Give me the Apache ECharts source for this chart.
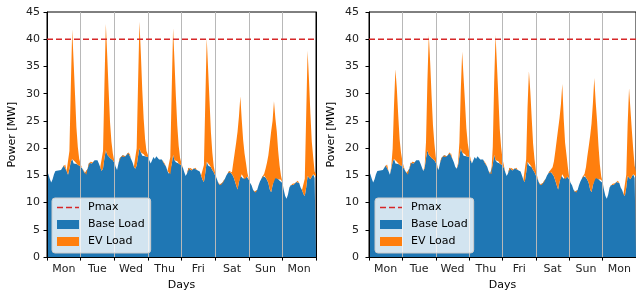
<!DOCTYPE html>
<html>
<head>
<meta charset="utf-8">
<script src="https://cdn.jsdelivr.net/npm/echarts@6/dist/echarts.min.js"></script>
<style>
  html, body { margin: 0; padding: 0; background: #fff; }
  #chart { width: 636px; height: 296px; }
</style>
</head>
<body>
<div id="chart"></div>
<script>
// one value per hour, Monday 00:00 up to the next Monday 24:00 (193 samples)
const days = ['Mon', 'Tue', 'Wed', 'Thu', 'Fri', 'Sat', 'Sun', 'Mon']
const pmax = 40

const baseLoad = [
  15.8, 15.2, 14.4, 13.7, 14.3, 15.2, 15.8, 16.0, 15.9, 16.1, 16.0, 16.4, 16.8, 17.0, 15.8, 15.1, 16.2, 17.5, 18.0, 17.2, 17.5, 17.1, 16.9, 16.8,
  16.7, 16.3, 16.0, 15.4, 15.1, 16.2, 17.3, 17.5, 17.2, 17.4, 17.8, 18.0, 17.8, 17.2, 16.5, 15.8, 16.3, 18.2, 19.6, 18.8, 18.5, 18.2, 18.0, 17.8,
  17.3, 16.6, 16.0, 17.2, 18.2, 18.5, 18.7, 18.4, 18.5, 18.8, 19.2, 19.0, 18.0, 17.4, 16.6, 16.2, 16.8, 18.5, 20.0, 19.2, 18.6, 18.9, 18.5, 18.3,
  18.4, 17.8, 17.2, 17.8, 18.4, 18.0, 18.5, 18.2, 17.9, 17.6, 17.9, 17.4, 17.2, 16.6, 15.8, 15.3, 15.2, 17.0, 18.8, 17.8, 17.4, 17.6, 17.2, 17.0,
  16.8, 16.4, 15.6, 14.9, 15.4, 16.4, 16.4, 15.9, 16.1, 16.3, 16.4, 16.0, 15.8, 15.7, 15.0, 14.2, 13.8, 15.5, 17.5, 16.8, 16.9, 16.5, 16.0, 15.6,
  15.0, 14.5, 13.8, 13.3, 13.2, 13.6, 13.8, 14.4, 15.0, 15.4, 15.8, 15.6, 15.2, 14.8, 14.0, 13.2, 12.4, 13.8, 15.0, 15.2, 14.4, 14.3, 15.0, 14.8,
  14.2, 13.6, 13.2, 12.4, 12.0, 11.8, 12.3, 13.2, 13.9, 14.4, 14.9, 15.0, 14.6, 14.2, 13.6, 12.4, 11.9, 13.2, 14.4, 14.5, 14.6, 14.3, 14.0, 14.2,
  13.6, 12.3, 11.2, 10.7, 11.5, 12.8, 13.2, 13.4, 13.3, 13.6, 13.8, 14.0, 13.6, 12.8, 12.3, 11.6, 11.2, 12.8, 14.9, 14.6, 14.3, 14.8, 15.2, 14.5,
  14.8
]

// EV charging, left plot
const evLoadLeft = [
  0, 0, 0, 0, 0, 0, 0, 0, 0, 0, 0, 0, 0, 0, 0, 0.5, 3.3, 13.8, 23.8, 18.6, 12.4, 6.7, 3.3, 1.2,
  0.4, 0, 0, 0, 0, 0, 0, 0, 0, 0, 0, 0, 0, 0, 0, 0.5, 3.2, 13.5, 23.2, 18.1, 12.1, 6.5, 3.2, 1.2,
  0.4, 0, 0, 0, 0, 0, 0, 0, 0, 0, 0, 0, 0, 0, 0, 0.5, 3.2, 13.5, 23.2, 18.1, 12.1, 6.5, 3.2, 1.2,
  0.4, 0, 0, 0, 0, 0, 0, 0, 0, 0, 0, 0, 0, 0, 0, 0.5, 3.2, 13.5, 23.2, 18.1, 12.1, 6.5, 3.2, 1.2,
  0.4, 0, 0, 0, 0, 0, 0, 0, 0, 0, 0, 0, 0, 0, 0, 0.5, 3.1, 13.2, 22.7, 17.7, 11.8, 6.4, 3.2, 1.1,
  0.4, 0, 0, 0, 0, 0, 0, 0, 0, 0, 0, 0.2, 0.4, 2.6, 5.2, 7.8, 10.6, 12.0, 14.5, 10.0, 7.1, 4.7, 2.3, 0.7,
  0.2, 0, 0, 0, 0, 0, 0, 0, 0, 0, 0, 0.3, 1.6, 3.1, 5.1, 8.4, 11.2, 11.8, 14.2, 11.0, 8.5, 5.2, 2.8, 0.8,
  0.2, 0, 0, 0, 0, 0, 0, 0, 0, 0, 0, 0, 0, 0, 0, 0.5, 3.2, 13.3, 23.0, 17.9, 12.0, 6.4, 3.2, 1.2,
  0.4
]

// EV charging, right plot
const evLoadRight = [
  0, 0, 0, 0, 0, 0, 0, 0, 0, 0, 0, 0, 0, 0, 0, 0, 0.4, 2.4, 10.0, 17.3, 13.5, 9.0, 4.8, 2.4,
  0.9, 0.3, 0, 0, 0, 0, 0, 0, 0, 0, 0, 0, 0, 0, 0, 0, 0.4, 3.0, 12.8, 22.0, 17.2, 11.4, 6.2, 3.1,
  1.1, 0.3, 0, 0, 0, 0, 0, 0, 0, 0, 0, 0, 0, 0, 0, 0, 0.4, 2.6, 10.7, 18.5, 14.4, 9.6, 5.2, 2.6,
  0.9, 0.3, 0, 0, 0, 0, 0, 0, 0, 0, 0, 0, 0, 0, 0, 0, 0.5, 3.2, 13.3, 23.0, 17.9, 12.0, 6.4, 3.2,
  1.2, 0.4, 0, 0, 0, 0, 0, 0, 0, 0, 0, 0, 0, 0, 0, 0, 0.4, 2.4, 10.0, 17.3, 13.5, 9.0, 4.8, 2.4,
  0.9, 0.3, 0, 0, 0, 0, 0, 0, 0, 0, 0, 0.2, 1.3, 2.8, 5.5, 8.3, 11.1, 11.7, 13.0, 16.6, 11.1, 6.7, 3.8, 1.7,
  0.3, 0, 0, 0, 0, 0, 0, 0, 0, 0, 0, 0.3, 1.9, 4.3, 6.7, 9.8, 12.6, 15.0, 18.5, 14.0, 10.4, 6.2, 3.0, 0.6,
  0.2, 0, 0, 0, 0, 0, 0, 0, 0, 0, 0, 0, 0, 0, 0, 0, 0.3, 2.3, 9.5, 16.4, 12.8, 8.5, 4.6, 2.3,
  0.8
]

const FONT = 'DejaVu Sans'
// hour index of each sample, used as the (hidden) category axis of the areas
const hours = baseLoad.map((v, i) => String(i))
// three short dashes, used as legend handle for Pmax
const dashIcon = 'path://M0,0h6v1.5h-6z M9,0h6v1.5h-6z M18,0h4v1.5h-4z'

function panelAxes (gridIndex, labelMargin) {
  const xs = [
    {
      type: 'category', gridIndex, data: hours, boundaryGap: false, show: false
    },
    {
      type: 'category', gridIndex, data: days, boundaryGap: true, position: 'bottom', z: 3,
      name: 'Days', nameLocation: 'middle', nameGap: 22,
      nameTextStyle: { fontFamily: FONT, fontSize: 11, color: '#000' },
      axisLine: { lineStyle: { color: '#000', width: 1 } },
      axisTick: { show: true, length: 3.5, interval: 0, lineStyle: { color: '#000' } },
      axisLabel: { fontFamily: FONT, fontSize: 11, color: '#222', margin: 7, interval: 0 },
      splitLine: { show: true, interval: 0, lineStyle: { color: '#b8b8b8', width: 1 } }
    }
  ]
  const ys = [
    {
      type: 'value', gridIndex, min: 0, max: 45, interval: 5, z: 3,
      name: 'Power [MW]', nameLocation: 'middle', nameGap: labelMargin + 22,
      nameTextStyle: { fontFamily: FONT, fontSize: 11, color: '#000' },
      axisLine: { show: true, lineStyle: { color: '#000', width: 1 } },
      axisTick: { show: true, length: 3.5, lineStyle: { color: '#000' } },
      axisLabel: { fontFamily: FONT, fontSize: 11, color: '#222', margin: labelMargin },
      splitLine: { show: false }
    },
    {
      type: 'value', gridIndex, min: 0, max: 45, interval: 5, position: 'right', z: 3,
      axisLine: { show: true, lineStyle: { color: '#000', width: 1 } },
      axisTick: { show: false },
      axisLabel: { show: false },
      splitLine: { show: false }
    }
  ]
  return { xs, ys }
}

function panelSeries (xIndex, yIndex, evLoad) {
  const stack = 'load' + xIndex
  return [
    {
      name: 'Base Load', type: 'line', stack,
      xAxisIndex: xIndex, yAxisIndex: yIndex,
      data: baseLoad, showSymbol: false, symbol: 'none',
      color: '#1f77b4', lineStyle: { width: 0 },
      areaStyle: { color: '#1f77b4', opacity: 1 }, z: 2
    },
    {
      name: 'EV Load', type: 'line', stack,
      xAxisIndex: xIndex, yAxisIndex: yIndex,
      data: evLoad, showSymbol: false, symbol: 'none',
      color: '#ff7f0e', lineStyle: { width: 0 },
      areaStyle: { color: '#ff7f0e', opacity: 1 }, z: 2
    },
    {
      name: 'Pmax', type: 'line', xAxisIndex: xIndex, yAxisIndex: yIndex,
      data: hours.map(() => pmax), showSymbol: false, symbol: 'none',
      color: '#d62728', lineStyle: { color: '#d62728', width: 1.5, type: [6, 3] }, z: 5
    }
  ]
}

function panelLegend (left) {
  return {
    orient: 'vertical', left, top: 198,
    padding: [4, 6, 6, 5], itemGap: 6, itemWidth: 22, itemHeight: 9,
    backgroundColor: 'rgba(255,255,255,0.8)', borderColor: '#cccccc', borderWidth: 1, borderRadius: 3,
    textStyle: { fontFamily: FONT, fontSize: 11, color: '#000', padding: [0, 0, 0, 4] },
    data: [
      { name: 'Pmax', icon: dashIcon },
      { name: 'Base Load', icon: 'rect' },
      { name: 'EV Load', icon: 'rect' }
    ],
    selectedMode: false
  }
}

const left = panelAxes(0, 7)
const right = panelAxes(1, 10)

const option = {
  animation: false,
  textStyle: { fontFamily: FONT },
  grid: [
    { left: 47, top: 12, width: 269, height: 246, show: true, borderColor: '#000', borderWidth: 1 },
    { left: 369, top: 12, width: 269, height: 246, show: true, borderColor: '#000', borderWidth: 1 }
  ],
  xAxis: [...left.xs, ...right.xs],
  yAxis: [...left.ys, ...right.ys],
  legend: [panelLegend(52), panelLegend(375)],
  series: [
    ...panelSeries(0, 0, evLoadLeft),
    ...panelSeries(2, 2, evLoadRight)
  ]
}

const myChart = echarts.init(document.getElementById('chart'))
myChart.setOption(option)
</script>
</body>
</html>
